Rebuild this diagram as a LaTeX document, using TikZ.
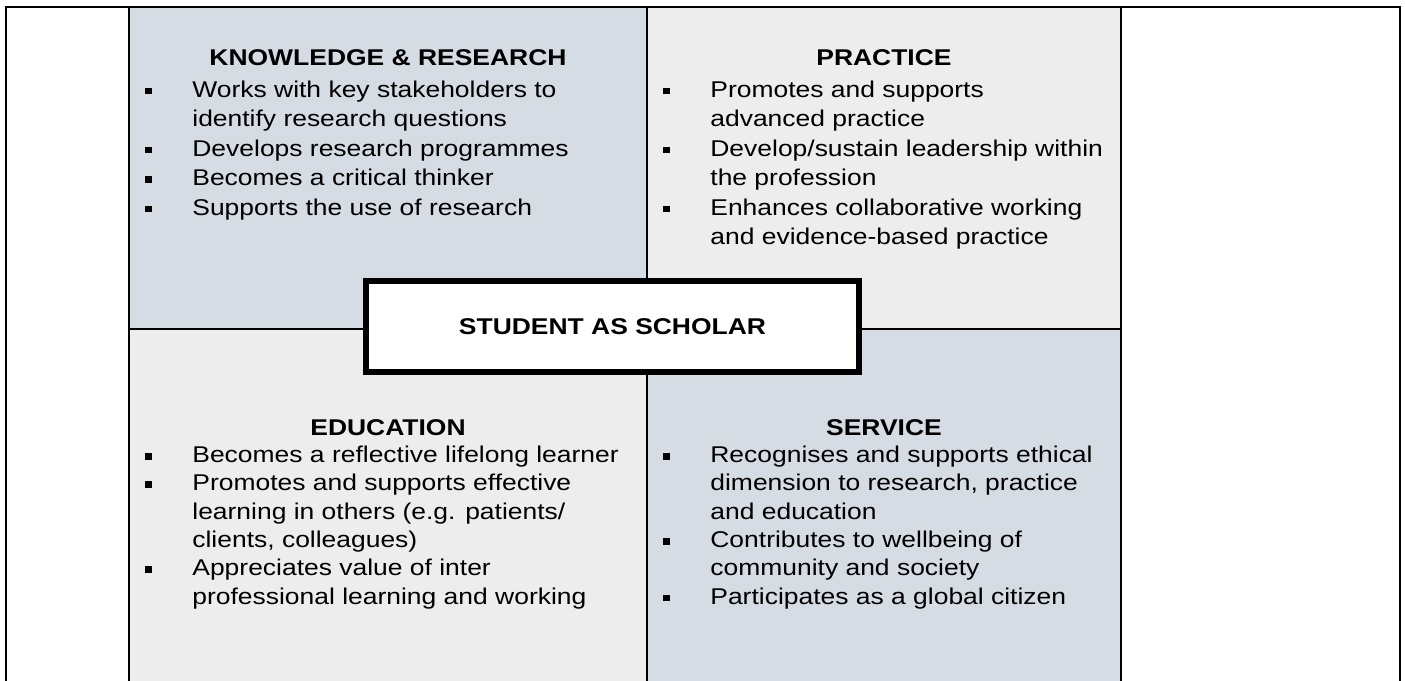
\documentclass[tikz,border=0pt]{standalone}
\usepackage{fontspec}
\setmainfont{Liberation Sans}[FakeStretch=1.16]
\definecolor{quadblue}{RGB}{214,220,228}
\definecolor{quadgrey}{RGB}{237,237,237}
% square bullet and a bulleted list set as a top-aligned table
\newcommand{\sqbul}{\makebox[23.5pt][l]{\rule[1.3pt]{3.4pt}{3.4pt}}}
\newcommand{\bulletlist}[2]{{\fontsize{11.4}{#1}\selectfont
  \begin{tabular}[t]{@{}l@{}l@{}}#2\end{tabular}}}
\tikzset{
  frame/.style={line width=1pt, line cap=rect},
  divider/.style={line width=0.75pt},
  hub/.style={draw, line width=2.75pt, fill=white, minimum width=246.5pt,
    minimum height=45.5pt, inner sep=0pt, font=\fontsize{11.4}{13}\selectfont\bfseries},
  heading/.style={anchor=base, inner sep=0pt, font=\fontsize{11.4}{13}\selectfont\bfseries},
  items/.style={anchor=base west, inner sep=0pt}
}
\begin{document}
\begin{tikzpicture}[x=0.5pt, y=-0.5pt]
\useasboundingbox (0,0) rectangle (1405,681);
% quadrant backgrounds
\fill[quadblue] (129,7) rectangle (647,329);
\fill[quadgrey] (647,7) rectangle (1121,329);
\fill[quadgrey] (129,329) rectangle (647,681);
\fill[quadblue] (647,329) rectangle (1121,681);
% table rules
\draw[frame] (6,681) -- (6,7) -- (1400,7) -- (1400,681);
\draw[frame] (129,7) -- (129,681);
\draw[frame] (1121,7) -- (1121,681);
\draw[divider] (647,7) -- (647,681);
\draw[line width=0.65pt] (129,329) -- (1121,329);
% centre box
\node[hub] (hub) at (612.5,326.5) {STUDENT AS SCHOLAR};
% headings
\node[heading] (krhead) at (388,65) {KNOWLEDGE \& RESEARCH};
\node[heading] (prhead) at (884,65) {PRACTICE};
\node[heading] (edhead) at (388,435) {EDUCATION};
\node[heading] (svhead) at (884,435) {SERVICE};
% bulleted lists
\node[items] (krlist) at (145,97) {\bulletlist{14.75pt}{%
  \sqbul & Works with key stakeholders to\\
         & identify research questions\\
  \sqbul & Develops research programmes\\
  \sqbul & Becomes a critical thinker\\
  \sqbul & Supports the use of research}};
\node[items] (prlist) at (663,97) {\bulletlist{14.75pt}{%
  \sqbul & Promotes and supports\\
         & advanced practice\\
  \sqbul & Develop/sustain leadership within\\
         & the profession\\
  \sqbul & Enhances collaborative working\\
         & and evidence-based practice}};
\node[items] (edlist) at (145,462.5) {\bulletlist{14.15pt}{%
  \sqbul & Becomes a reflective lifelong learner\\
  \sqbul & Promotes and supports effective\\
         & learning in others (e.g. patients/\\
         & clients, colleagues)\\
  \sqbul & Appreciates value of inter\\
         & professional learning and working}};
\node[items] (svlist) at (663,462.5) {\bulletlist{14.15pt}{%
  \sqbul & Recognises and supports ethical\\
         & dimension to research, practice\\
         & and education\\
  \sqbul & Contributes to wellbeing of\\
         & community and society\\
  \sqbul & Participates as a global citizen}};
\end{tikzpicture}
\end{document}
